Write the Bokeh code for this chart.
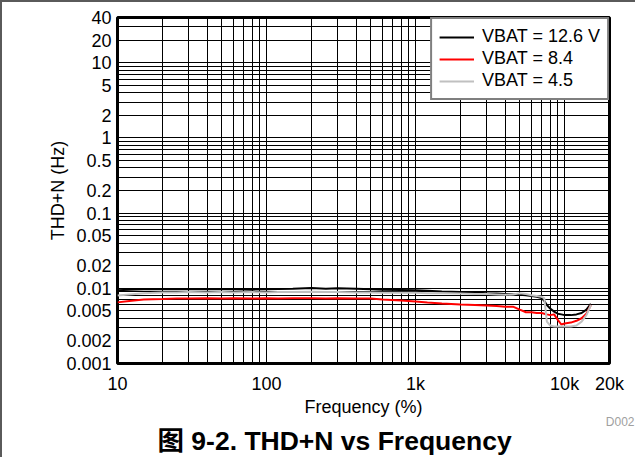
from bokeh.plotting import figure
from bokeh.models import FixedTicker, Legend, LegendItem, Title, Range1d
from bokeh.embed import file_html
from bokeh.resources import INLINE

# ---------------- data ----------------
freq_hz = [10, 12, 15, 20, 25, 30, 40, 50, 60, 80, 100, 120, 150, 200, 250, 300,
           400, 500, 600, 800, 1000, 1200, 1500, 2000, 2500, 3000, 3500, 4000,
           4500, 5000, 5500, 6000, 6500, 7000, 7300, 7600, 8000, 8500, 9000,
           9500, 10000, 11000, 12000, 13000, 14000, 15000]

thdn_12v6 = [0.0094, 0.0096, 0.0097, 0.0098, 0.0097, 0.0098, 0.0097, 0.0098, 0.0097,
             0.0096, 0.0097, 0.0098, 0.0099, 0.0101, 0.0099, 0.0100, 0.0099, 0.0097,
             0.0096, 0.0095, 0.0094, 0.0093, 0.0091, 0.0089, 0.0088, 0.0086, 0.0085,
             0.0084, 0.0083, 0.0082, 0.0081, 0.0079, 0.0077, 0.0074, 0.0068, 0.0060,
             0.0054, 0.0049, 0.0046, 0.0045, 0.0044, 0.0044, 0.0045, 0.0047, 0.0052,
             0.0062]

thdn_8v4 = [0.0065, 0.0068, 0.0071, 0.0072, 0.0073, 0.0073, 0.0074, 0.0073, 0.0074,
            0.0073, 0.0074, 0.0073, 0.0074, 0.0074, 0.0073, 0.0074, 0.0073, 0.0073,
            0.0071, 0.0069, 0.0067, 0.0065, 0.0063, 0.0061, 0.0060, 0.0059, 0.0058,
            0.0057, 0.0057, 0.0052, 0.0048, 0.0048, 0.0047, 0.0047, 0.0046, 0.0045,
            0.0044, 0.0045, 0.0038, 0.0033, 0.0034, 0.0035, 0.0037, 0.0040, 0.0046,
            0.0060]

thdn_4v5 = [0.0080, 0.0083, 0.0086, 0.0088, 0.0088, 0.0089, 0.0088, 0.0089, 0.0088,
            0.0089, 0.0088, 0.0089, 0.0089, 0.0090, 0.0089, 0.0089, 0.0088, 0.0088,
            0.0087, 0.0087, 0.0087, 0.0086, 0.0086, 0.0085, 0.0084, 0.0084, 0.0083,
            0.0082, 0.0083, 0.0086, 0.0084, 0.0081, 0.0079, 0.0077, 0.0074, 0.0036,
            0.0032, 0.0031, 0.0031, 0.0031, 0.0031, 0.0031, 0.0032, 0.0036, 0.0044,
            0.0060]

series_labels = ["VBAT = 12.6 V", "VBAT = 8.4", "VBAT = 4.5"]

x_tick_values = [10, 100, 1000, 10000, 20000]
x_tick_labels = ["10", "100", "1k", "10k", "20k"]
y_tick_values = [0.001, 0.002, 0.005, 0.01, 0.02, 0.05, 0.1, 0.2, 0.5, 1, 2, 5, 10, 20, 40]
y_tick_labels = ["0.001", "0.002", "0.005", "0.01", "0.02", "0.05", "0.1", "0.2", "0.5",
                 "1", "2", "5", "10", "20", "40"]

x_grid_values = [10, 20, 30, 40, 50, 60, 70, 80, 90,
                 100, 200, 300, 400, 500, 600, 700, 800, 900,
                 1000, 2000, 3000, 4000, 5000, 6000, 7000, 8000, 9000,
                 10000, 20000]
y_grid_values = [0.001, 0.002, 0.003, 0.004, 0.005, 0.006, 0.007, 0.008, 0.009,
                 0.01, 0.02, 0.03, 0.04, 0.05, 0.06, 0.07, 0.08, 0.09,
                 0.1, 0.2, 0.3, 0.4, 0.5, 0.6, 0.7, 0.8, 0.9,
                 1, 2, 3, 4, 5, 6, 7, 8, 9,
                 10, 20, 30, 40]

title_text = "图 9-2. THD+N vs Frequency"
x_label = "Frequency (%)"
y_label = "THD+N (Hz)"
code_text = "D002"

# ---------------- figure ----------------
FONT = "Liberation Sans, Noto Sans CJK SC, sans-serif"

p = figure(frame_width=492, frame_height=346,
           x_axis_type="log", y_axis_type="log",
           x_range=Range1d(10, 20000), y_range=Range1d(0.001, 40),
           output_backend="svg", toolbar_location=None,
           min_border_left=115, min_border_right=26,
           min_border_top=15, min_border_bottom=40)
p.styles = {"border-left": "2px solid #5a5a5a", "border-top": "2px solid #5a5a5a"}

p.background_fill_color = "white"
p.border_fill_color = "white"
p.outline_line_color = "black"
p.outline_line_width = 3

# axes
for ax in (p.xaxis[0], p.yaxis[0]):
    ax.axis_line_color = None
    ax.major_tick_line_color = None
    ax.minor_tick_line_color = None
    ax.major_tick_out = 0
    ax.major_tick_in = 0
    ax.minor_tick_out = 0
    ax.minor_tick_in = 0
    ax.major_label_text_font = FONT
    ax.major_label_text_font_size = "18px"
    ax.major_label_text_color = "black"
    ax.axis_label_text_font = FONT
    ax.axis_label_text_font_size = "18px"
    ax.axis_label_text_font_style = "normal"
    ax.axis_label_text_color = "black"

p.xaxis.ticker = FixedTicker(ticks=x_tick_values, minor_ticks=[])
p.xaxis.major_label_overrides = dict(zip(x_tick_values, x_tick_labels))
p.xaxis.major_label_standoff = 10
p.xaxis.axis_label = x_label
p.xaxis.axis_label_standoff = 0

p.yaxis.ticker = FixedTicker(ticks=y_tick_values, minor_ticks=[])
p.yaxis.major_label_overrides = dict(zip(y_tick_values, y_tick_labels))
p.yaxis.major_label_standoff = 6
p.yaxis.axis_label = y_label
p.yaxis.axis_label_standoff = -5

# grid
p.xgrid.ticker = FixedTicker(ticks=x_grid_values)
p.ygrid.ticker = FixedTicker(ticks=y_grid_values)
for g in (p.xgrid[0], p.ygrid[0]):
    g.grid_line_color = "black"
    g.grid_line_width = 1
    g.grid_line_alpha = 1.0

# lines
r1 = p.line(freq_hz, thdn_12v6, line_color="black", line_width=2)
r2 = p.line(freq_hz, thdn_8v4, line_color="#ff0000", line_width=2)
r3 = p.line(freq_hz, thdn_4v5, line_color="#c0c0c0", line_width=2)

legend = Legend(items=[LegendItem(label=series_labels[0], renderers=[r1]),
                       LegendItem(label=series_labels[1], renderers=[r2]),
                       LegendItem(label=series_labels[2], renderers=[r3])],
                location="top_right", margin=0, padding=7, spacing=1,
                glyph_width=35, glyph_height=20, label_height=20,
                label_standoff=8,
                label_text_font=FONT, label_text_font_size="18px",
                label_text_color="black",
                border_line_color="black", border_line_width=2,
                background_fill_color="white", background_fill_alpha=1.0)
p.add_layout(legend)

# code and caption below the x axis
p.add_layout(Title(text=code_text, align="right", offset=-25, standoff=-14,
                   text_font=FONT, text_font_size="12px", text_font_style="normal",
                   text_color="#a0a0a0"), "below")
p.add_layout(Title(text=title_text, align="left", offset=40, standoff=4,
                   text_font=FONT, text_font_size="26.5px", text_font_style="bold",
                   text_color="black"), "below")

open("out.html", "w").write(file_html(p, INLINE))
